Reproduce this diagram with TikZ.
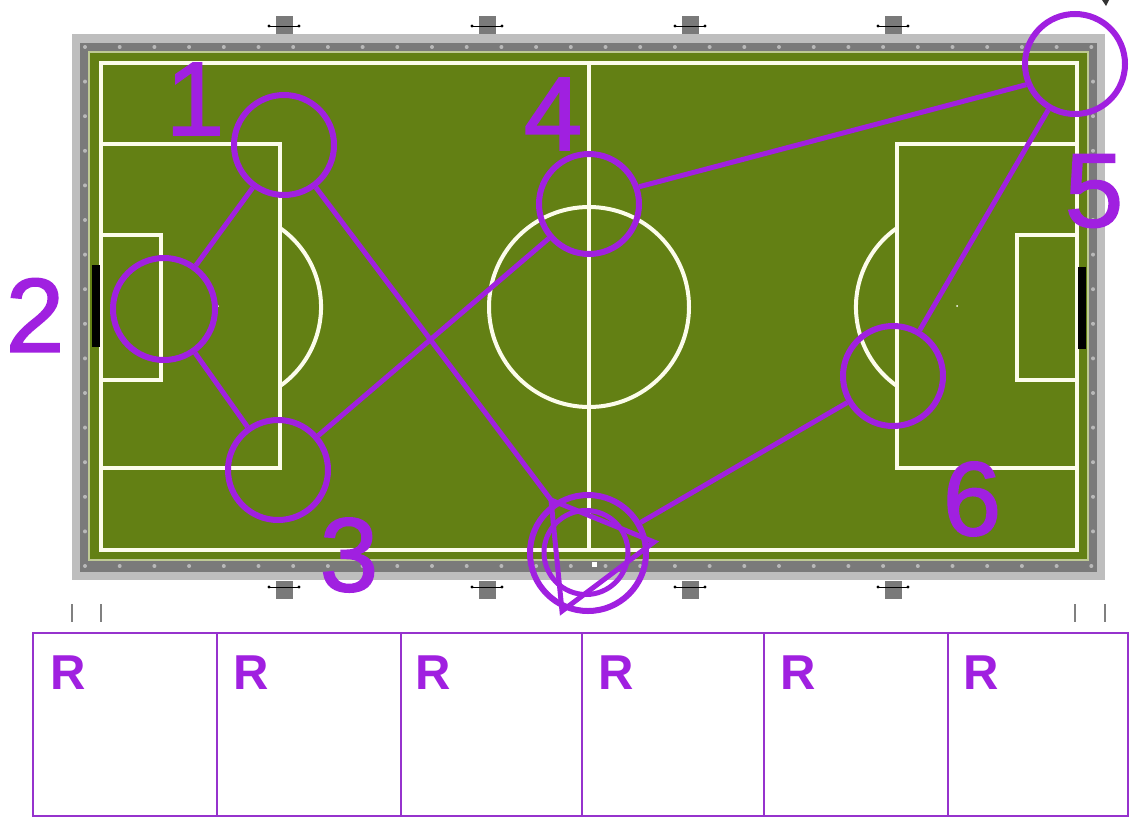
\documentclass[tikz,border=0pt]{standalone}
\usepackage{fontspec}
\setmainfont{Liberation Sans}
\newfontfamily\heavynum[FakeBold=1.6]{Liberation Sans}
\definecolor{pur}{RGB}{160,32,224}
\definecolor{cellline}{RGB}{150,50,205}
\definecolor{pitch}{RGB}{99,128,20}
\definecolor{band}{RGB}{122,122,122}
\definecolor{frame}{RGB}{190,190,190}
\definecolor{chalk}{RGB}{252,252,235}
\tikzset{
  ring/.style={circle,draw=pur,line width=6pt,minimum size=#1,inner sep=0pt},
  link/.style={draw=pur,line width=5pt},
  num/.style={text=pur,font=\heavynum\fontsize{105}{105}\selectfont,inner sep=0pt},
  cell/.style={draw=cellline,line width=2pt,anchor=north west,inner sep=0pt,minimum height=183pt},
  rlab/.style={text=pur,font=\fontsize{49}{49}\selectfont\bfseries,inner sep=0pt,anchor=base west},
  chalkline/.style={draw=chalk,line width=4pt},
  stud/.style={fill=white!45!gray,draw=none,circle,minimum size=4pt,inner sep=0pt},
  fixture/.style={fill=band,draw=none,minimum width=17pt,minimum height=18pt,inner sep=0pt},
  tick/.style={draw=gray,line width=1.2pt},
  goal/.style={fill=black,draw=none,anchor=north west,minimum width=8pt,minimum height=82pt,inner sep=0pt}
}
\begin{document}
\begin{tikzpicture}[x=1pt,y=-1pt]
\useasboundingbox (0,0) rectangle (1129,822);
\fill[white] (0,0) rectangle (1129,822);
% frame and pitch
\fill[frame] (72,34) rectangle (1105,580);
\fill[band] (80,43) rectangle (1097,572);
\fill[chalk!60!pitch] (88,51) rectangle (1089,561);
\fill[pitch] (90,53) rectangle (1087,559);
% studs
\foreach \i in {0,...,29} {
  \node[stud] at ({85+34.7*\i},47) {};
  \node[stud] at ({85+34.7*\i},566) {};
}
\foreach \j in {1,...,14} {
  \node[stud] at (85,{47+34.6*\j}) {};
  \node[stud] at (1093,{47+34.6*\j}) {};
}
\node[fill=white,minimum size=5pt,inner sep=0pt] at (594,564) {};
% pitch markings
\draw[chalkline] (101,63) rectangle (1077,550);
\draw[chalkline] (589,63) -- (589,550);
\draw[chalkline] (589,307) circle[radius=100];
\draw[chalkline] (101,144) -| (280,468) -- (101,468);
\draw[chalkline] (101,235) -| (161,380) -- (101,380);
\draw[chalkline] (1077,144) -| (897,468) -- (1077,468);
\draw[chalkline] (1077,235) -| (1017,380) -- (1077,380);
\draw[chalkline] (280,228) arc[start angle=-54.9,end angle=54.9,radius=96.6];
\draw[chalkline] (897,228) arc[start angle=234.9,end angle=125.1,radius=96.6];
\node[goal] at (92,265) {};
\node[goal] at (1078,267) {};
\fill[white] (218,306) circle[radius=1];
\fill[white] (957,306) circle[radius=1];
% fixtures
\foreach \x in {284,487,690,893} {
  \node[fixture] at (\x,25) {};
  \node[fixture] at (\x,590) {};
  \draw[black,line width=.8pt] (\x-15,26) -- (\x+15,26);
  \draw[black,line width=.8pt] (\x-15,587) -- (\x+15,587);
  \fill[black] (\x-15,26) circle[radius=1.6] (\x+15,26) circle[radius=1.6] (\x-15,587) circle[radius=1.6] (\x+15,587) circle[radius=1.6];
}
% ticks
\foreach \x in {72,101,1075,1105} \draw[tick] (\x,604) -- (\x,622);
\fill[black!80] (1102,0) -- (1109,0) -- (1106,6) -- cycle;
% table
\node[cell,minimum width=184pt] (c1) at (32,632) {};
\node[cell,minimum width=184pt] (c2) at (216,632) {};
\node[cell,minimum width=181pt] (c3) at (400,632) {};
\node[cell,minimum width=182pt] (c4) at (581,632) {};
\node[cell,minimum width=184pt] (c5) at (763,632) {};
\node[cell,minimum width=180pt] (c6) at (947,632) {};
\foreach \n/\x in {r1/50,r2/233,r3/415,r4/598,r5/780,r6/963}
  \node[rlab] (\n) at (\x,689) {R};
% rings
\node[ring=100pt] (p1) at (284,145) {};
\node[ring=102pt] (p2) at (164,309) {};
\node[ring=100pt] (p3) at (278,470) {};
\node[ring=100pt] (p4) at (589,204) {};
\node[ring=100pt] (p5) at (1075,64) {};
\node[ring=100pt] (p6) at (893,376) {};
\node[ring=116pt] (outer) at (588,553) {};
\node[ring=84pt,line width=5pt] (inner) at (586,552.5) {};
\coordinate (t1) at (551,500);
\coordinate (t2) at (654,542);
\coordinate (t3) at (562,611);
% connectors
\draw[link] (p1) -- (p2);
\draw[link] (p2) -- (p3);
\draw[link] (p3) -- (p4);
\draw[link] (p4.19) -- (p5.203);
\draw[link] (p5) -- (p6);
\draw[link] (p6) -- (outer);
\draw[link] (p1) -- (t1);
\draw[link,line join=miter] (t1) -- (t2) -- (t3) -- cycle;
% numbers
\node[num] (n1) at (195,99) {1};
\node[num] (n2) at (35,315) {2};
\node[num] (n3) at (349,555) {3};
\node[num] (n4) at (553,114) {4};
\node[num] (n5) at (1094,191) {5};
\node[num] (n6) at (972,499) {6};
\end{tikzpicture}
\end{document}
